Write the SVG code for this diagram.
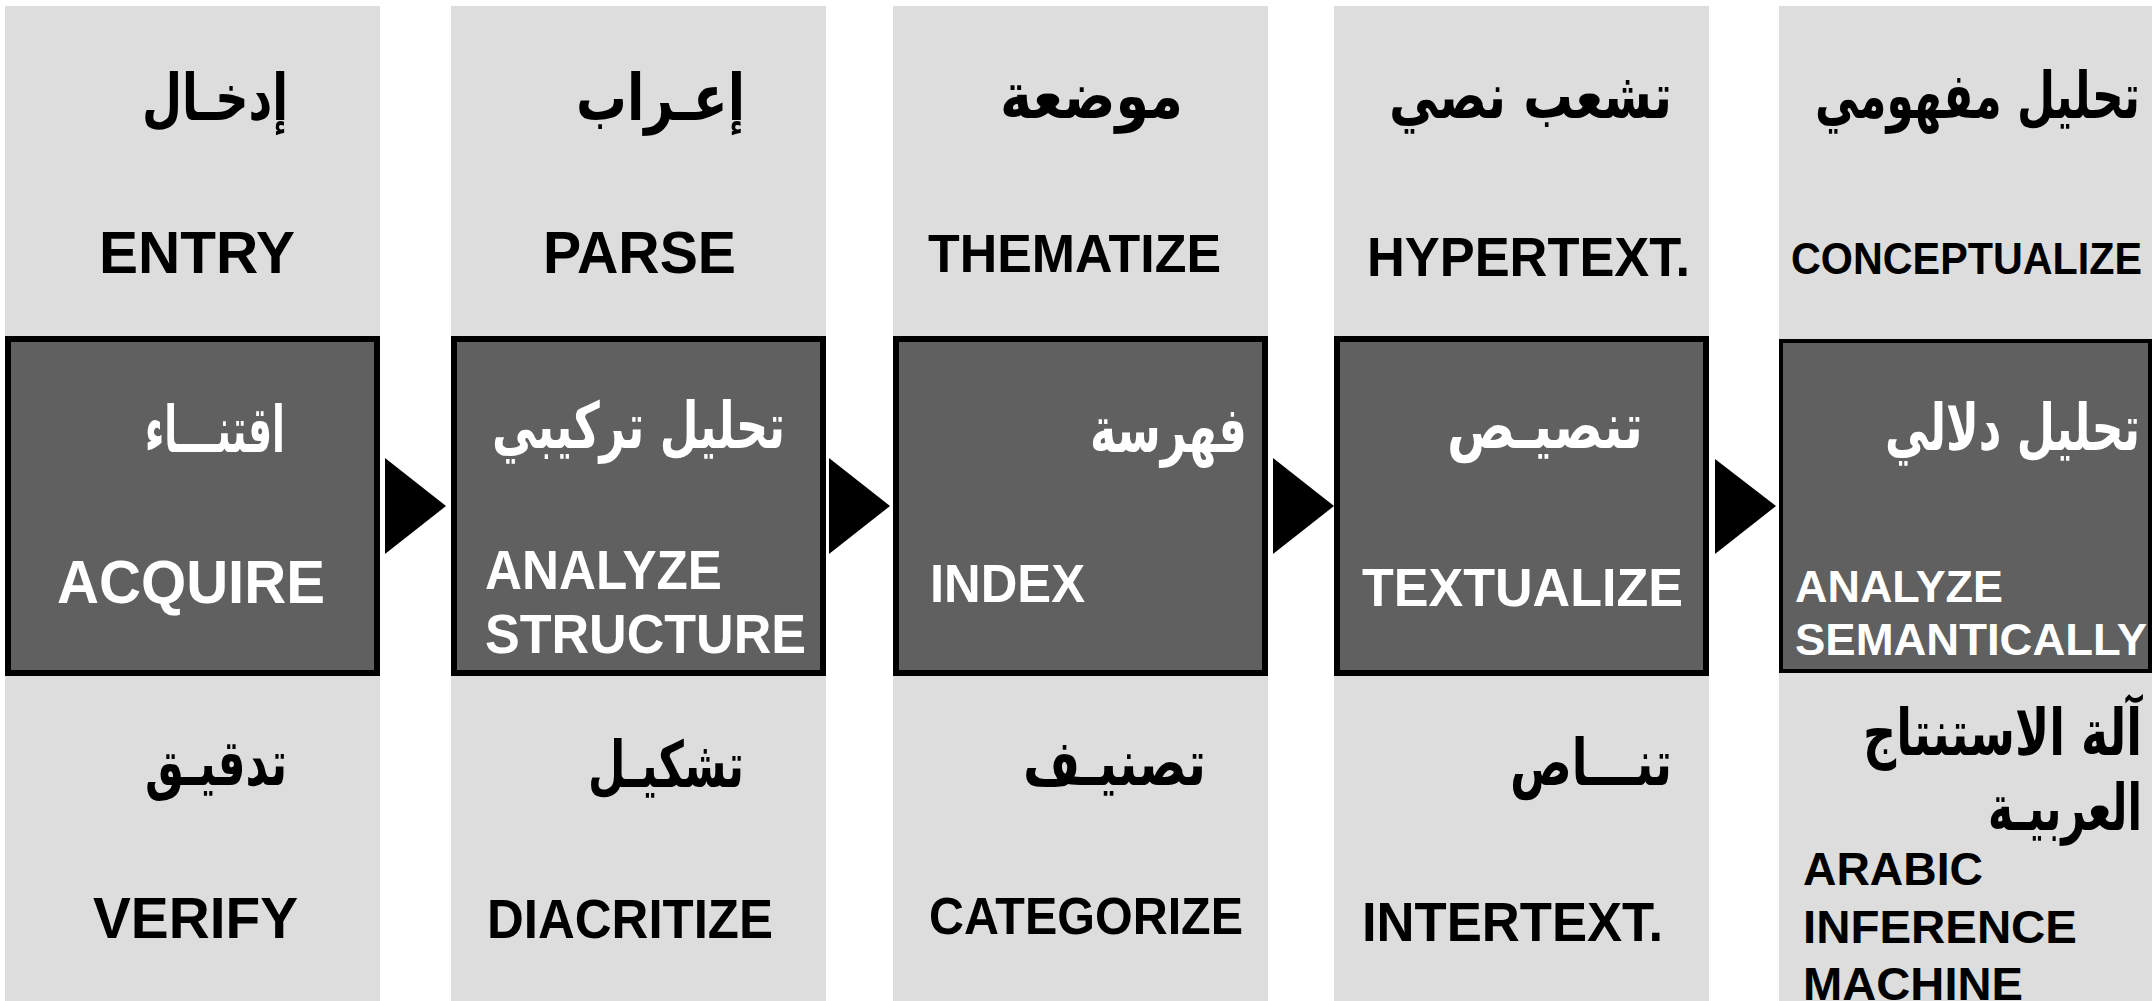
<svg xmlns="http://www.w3.org/2000/svg" width="2152" height="1001" viewBox="0 0 2152 1001">
<style>
.bg{fill:#dddddd}
.box{fill:#606060;stroke:#000;stroke-width:6}
.box5{fill:#606060;stroke:#000;stroke-width:4}
.en{font-family:"Liberation Sans",Arial,sans-serif;font-weight:bold}
.ar{font-family:"DejaVu Sans","Noto Sans",sans-serif;font-weight:bold;font-size:64px}
.dk{fill:#000}
.lt{fill:#fff}
.arrow{fill:#000}
</style>
<rect width="2152" height="1001" fill="#fff"/>
<g id="col1">
<rect class="bg" x="5" y="6" width="375" height="995"/>
<text class="ar dk" x="142" y="120" textLength="146" lengthAdjust="spacingAndGlyphs">إدخـال</text>
<text class="en dk" x="99" y="273" font-size="60" textLength="196" lengthAdjust="spacingAndGlyphs">ENTRY</text>
<g id="acquire">
<rect class="box" x="8" y="339" width="369" height="334"/>
<text class="ar lt" x="145" y="452" textLength="140" lengthAdjust="spacingAndGlyphs">اقتنـــاء</text>
<text class="en lt" x="57" y="603" font-size="62" textLength="268" lengthAdjust="spacingAndGlyphs">ACQUIRE</text>
</g>
<text class="ar dk" x="145" y="785" textLength="142" lengthAdjust="spacingAndGlyphs">تدقيـق</text>
<text class="en dk" x="93" y="938" font-size="57" textLength="205" lengthAdjust="spacingAndGlyphs">VERIFY</text>
</g>
<g id="col2">
<rect class="bg" x="451" y="6" width="375" height="995"/>
<text class="ar dk" x="576" y="120" textLength="169" lengthAdjust="spacingAndGlyphs">إعـراب</text>
<text class="en dk" x="543" y="273" font-size="60" textLength="193" lengthAdjust="spacingAndGlyphs">PARSE</text>
<g id="analyze-structure">
<rect class="box" x="454" y="339" width="369" height="334"/>
<text class="ar lt" x="492" y="448" textLength="293" lengthAdjust="spacingAndGlyphs">تحليل تركيبي</text>
<text class="en lt" x="485" y="589" font-size="55" textLength="237" lengthAdjust="spacingAndGlyphs">ANALYZE</text>
<text class="en lt" x="485" y="653" font-size="56" textLength="321" lengthAdjust="spacingAndGlyphs">STRUCTURE</text>
</g>
<text class="ar dk" x="588" y="787" textLength="156" lengthAdjust="spacingAndGlyphs">تشكيـل</text>
<text class="en dk" x="487" y="938" font-size="56" textLength="286" lengthAdjust="spacingAndGlyphs">DIACRITIZE</text>
</g>
<g id="col3">
<rect class="bg" x="893" y="6" width="375" height="995"/>
<text class="ar dk" x="1000" y="118" textLength="183" lengthAdjust="spacingAndGlyphs">موضعة</text>
<text class="en dk" x="928" y="272" font-size="54" textLength="293" lengthAdjust="spacingAndGlyphs">THEMATIZE</text>
<g id="index">
<rect class="box" x="896" y="339" width="369" height="334"/>
<text class="ar lt" x="1090" y="452" textLength="157" lengthAdjust="spacingAndGlyphs">فهرسة</text>
<text class="en lt" x="930" y="602" font-size="54" textLength="155" lengthAdjust="spacingAndGlyphs">INDEX</text>
</g>
<text class="ar dk" x="1023" y="785" textLength="183" lengthAdjust="spacingAndGlyphs">تصنيـف</text>
<text class="en dk" x="929" y="934" font-size="52" textLength="314" lengthAdjust="spacingAndGlyphs">CATEGORIZE</text>
</g>
<g id="col4">
<rect class="bg" x="1334" y="6" width="375" height="995"/>
<text class="ar dk" x="1389" y="118" textLength="283" lengthAdjust="spacingAndGlyphs">تشعب نصي</text>
<text class="en dk" x="1367" y="276" font-size="56" textLength="323" lengthAdjust="spacingAndGlyphs">HYPERTEXT.</text>
<g id="textualize">
<rect class="box" x="1337" y="339" width="369" height="334"/>
<text class="ar lt" x="1447" y="448" textLength="196" lengthAdjust="spacingAndGlyphs">تنصيـص</text>
<text class="en lt" x="1362" y="606" font-size="54" textLength="321" lengthAdjust="spacingAndGlyphs">TEXTUALIZE</text>
</g>
<text class="ar dk" x="1510" y="785" textLength="162" lengthAdjust="spacingAndGlyphs">تنـــاص</text>
<text class="en dk" x="1362" y="941" font-size="56" textLength="301" lengthAdjust="spacingAndGlyphs">INTERTEXT.</text>
</g>
<g id="col5">
<rect class="bg" x="1779" y="6" width="373" height="995"/>
<text class="ar dk" x="1815" y="118" textLength="325" lengthAdjust="spacingAndGlyphs">تحليل مفهومي</text>
<text class="en dk" x="1791" y="274" font-size="44" textLength="351" lengthAdjust="spacingAndGlyphs">CONCEPTUALIZE</text>
<g id="analyze-semantically">
<rect class="box5" x="1781" y="341" width="369" height="330"/>
<text class="ar lt" x="1885" y="450" textLength="255" lengthAdjust="spacingAndGlyphs">تحليل دلالي</text>
<text class="en lt" x="1795" y="602" font-size="45" textLength="208" lengthAdjust="spacingAndGlyphs">ANALYZE</text>
<text class="en lt" x="1795" y="655" font-size="45" textLength="352" lengthAdjust="spacingAndGlyphs">SEMANTICALLY</text>
</g>
<text class="ar dk" x="1863" y="755" textLength="279" lengthAdjust="spacingAndGlyphs">آلة الاستنتاج</text>
<text class="ar dk" x="1988" y="830" textLength="154" lengthAdjust="spacingAndGlyphs">العربيـة</text>
<text class="en dk" x="1803" y="885" font-size="46" textLength="180" lengthAdjust="spacingAndGlyphs">ARABIC</text>
<text class="en dk" x="1803" y="943" font-size="46" textLength="274" lengthAdjust="spacingAndGlyphs">INFERENCE</text>
<text class="en dk" x="1803" y="1000" font-size="46" textLength="220" lengthAdjust="spacingAndGlyphs">MACHINE</text>
</g>
<g id="connectors">
<polygon class="arrow" points="385,458 446,506 385,554"/>
<polygon class="arrow" points="829,458 890,506 829,554"/>
<polygon class="arrow" points="1273,458 1334,506 1273,554"/>
<polygon class="arrow" points="1715,459 1776,506 1715,554"/>
</g>
</svg>
